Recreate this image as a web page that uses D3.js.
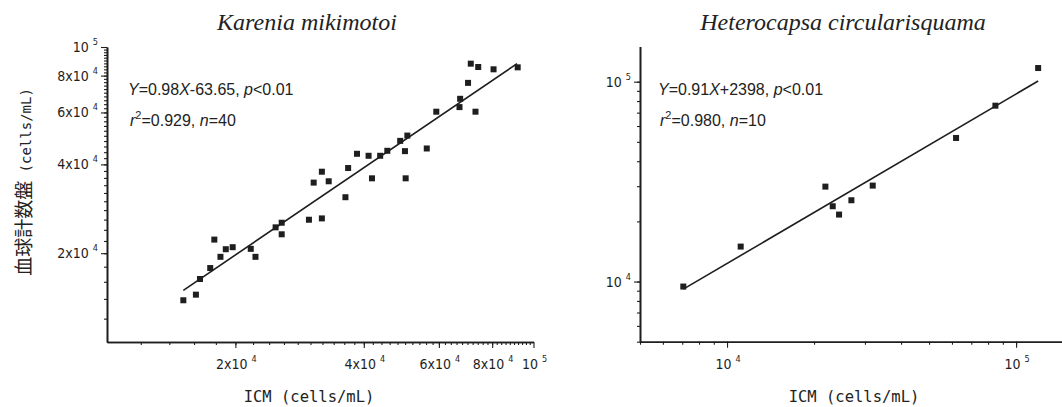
<!DOCTYPE html>
<html>
<head>
<meta charset="utf-8">
<script src="https://cdn.jsdelivr.net/npm/d3@7"></script>
<style>
  body { margin: 0; background: #fff; }
</style>
</head>
<body>
<svg id="chart"></svg>
<script>
// --- Data ---
// Karenia mikimotoi: ICM vs hemocytometer counts (cells/mL)
const kmX = [15100, 16160, 16520, 17460, 17850, 18450, 18990, 19710, 21730, 22290,
             24850, 25680, 25680, 29750, 30520, 31900, 31900, 33100, 36230, 36760,
             38560, 41050, 41810, 43700, 45420, 48690, 49960, 50150, 50610, 56200,
             59170, 67060, 67300, 70230, 71270, 73110, 74200, 80600, 91820];
const kmY = [13850, 14470, 16350, 17810, 22240, 19440, 20630, 20960, 20690, 19440,
             24470, 25370, 23180, 25970, 34700, 37780, 26240, 35060, 30960, 38880,
             43450, 42780, 35880, 42780, 44480, 48060, 44360, 35880, 50090, 45290,
             60350, 62560, 66740, 75580, 87800, 60350, 85540, 84020, 85320];
const kmFitX = [15100, 91500];
const kmFitY = [14970, 87800];

// Heterocapsa circularisquama
const hcX = [7060, 11150, 21890, 23210, 24410, 26930, 31920, 61990, 84800, 119200];
const hcY = [9440, 14960, 29850, 23810, 21630, 25510, 30200, 52290, 75860, 117040];
const hcFitX = [7060, 119200];
const hcFitY = [9160, 100800];

// labelled ticks
const kmTicks = [2e4, 4e4, 6e4, 8e4, 1e5];
const hcTicks = [1e4, 1e5];

const W = 1062, H = 407;
const ink = "#1e1e1e";
const tickFont = "'DejaVu Sans Condensed', 'DejaVu Sans', sans-serif";
const monoFont = "'DejaVu Sans Mono', monospace";
const cjkFont = "'Noto Sans CJK JP', sans-serif";

const svg = d3.select("#chart").attr("width", W).attr("height", H);
svg.append("rect").attr("width", W).attr("height", H).attr("fill", "#fff");

// "2x10" + superscript exponent
function tickParts(v) {
  const e = Math.floor(Math.log10(v) + 1e-9);
  const m = Math.round(v / Math.pow(10, e));
  return [m === 1 ? "10" : m + "x10", String(e)];
}

function addRich(sel, parts) {
  parts.forEach((p, i) => {
    const t = sel.append("tspan").text(p.t);
    if (p.i) t.attr("font-style", "italic");
    if (p.sup) t.attr("font-size", 11).attr("dy", -7);
    if (i > 0 && parts[i - 1].sup) t.attr("dy", 7);
  });
}

function drawPanel(p) {
  const g = svg.append("g");
  const x = d3.scaleLog().domain(p.xDomain).range(p.xRange);
  const y = d3.scaleLog().domain(p.yDomain).range(p.yRange);
  const x0 = p.xRange[0], y0 = p.yRange[0];

  // minor ticks
  const xMinor = g.append("g").attr("transform", `translate(0,${y0})`)
    .call(d3.axisBottom(x).tickValues(p.xMinor).tickSize(3).tickSizeOuter(0).tickFormat(""));
  const yMinor = g.append("g").attr("transform", `translate(${x0},0)`)
    .call(d3.axisLeft(y).tickValues(p.yMinor).tickSize(3).tickSizeOuter(0).tickFormat(""));
  // major ticks
  const xMajor = g.append("g").attr("transform", `translate(0,${y0})`)
    .call(d3.axisBottom(x).tickValues(p.xTicks).tickSize(6).tickSizeOuter(0).tickFormat(""));
  const yMajor = g.append("g").attr("transform", `translate(${x0},0)`)
    .call(d3.axisLeft(y).tickValues(p.yTicks).tickSize(6).tickSizeOuter(0).tickFormat(""));

  [xMinor, yMinor, xMajor, yMajor].forEach(a => {
    a.selectAll("line").attr("stroke", ink).attr("stroke-width", 1.1);
    a.select(".domain").attr("stroke", ink).attr("stroke-width", 1.6);
  });

  // tick labels
  p.yTicks.forEach(v => {
    const [m, e] = tickParts(v);
    const t = g.append("text")
      .attr("x", x0 - 9).attr("y", y(v) + 5)
      .attr("text-anchor", "end")
      .attr("font-family", tickFont).attr("font-size", 14).attr("fill", ink);
    t.append("tspan").text(m);
    t.append("tspan").text(e).attr("font-size", 9).attr("dx", 4).attr("dy", -7);
  });
  p.xTicks.forEach(v => {
    const [m, e] = tickParts(v);
    const t = g.append("text")
      .attr("x", x(v) + 1).attr("y", y0 + 27)
      .attr("text-anchor", "middle")
      .attr("font-family", tickFont).attr("font-size", 14).attr("fill", ink);
    t.append("tspan").text(m);
    t.append("tspan").text(e).attr("font-size", 9).attr("dx", 4).attr("dy", -7);
  });

  // fitted line
  const fit = d3.zip(p.fitX, p.fitY);
  g.append("path")
    .attr("d", d3.line().x(d => x(d[0])).y(d => y(d[1]))(fit))
    .attr("fill", "none").attr("stroke", ink).attr("stroke-width", 1.6);

  // points
  const pts = d3.zip(p.xs, p.ys);
  const s = 6;
  g.selectAll("rect.pt").data(pts).enter().append("rect")
    .attr("class", "pt")
    .attr("x", d => x(d[0]) - s / 2).attr("y", d => y(d[1]) - s / 2)
    .attr("width", s).attr("height", s)
    .attr("fill", ink);

  // species title
  g.append("text")
    .attr("x", p.titleX).attr("y", 30)
    .attr("text-anchor", "middle")
    .attr("font-family", "'Liberation Serif', 'Times New Roman', serif")
    .attr("font-style", "italic").attr("font-size", 24).attr("fill", "#222")
    .text(p.title);

  // regression annotation
  const a1 = g.append("text").attr("x", p.noteX).attr("y", 95)
    .attr("font-family", "'Liberation Sans', Arial, sans-serif").attr("font-size", 16).attr("fill", "#222");
  addRich(a1, p.note1);
  const a2 = g.append("text").attr("x", p.noteX + 2).attr("y", 126)
    .attr("font-family", "'Liberation Sans', Arial, sans-serif").attr("font-size", 16).attr("fill", "#222");
  addRich(a2, p.note2);

  // x axis title
  g.append("text")
    .attr("x", p.xTitleX).attr("y", 402)
    .attr("text-anchor", "middle")
    .attr("font-family", monoFont).attr("font-size", 15.5).attr("fill", "#222")
    .text("ICM (cells/mL)");
}

drawPanel({
  xDomain: [1e4, 1e5], xRange: [107, 533.5],
  yDomain: [1e4, 1e5], yRange: [342, 47],
  xMinor: d3.range(1.2e4, 1e5, 2e3), yMinor: d3.range(1.2e4, 1e5, 2e3),
  xTicks: kmTicks, yTicks: kmTicks,
  xs: kmX, ys: kmY, fitX: kmFitX, fitY: kmFitY,
  title: "Karenia mikimotoi", titleX: 307,
  noteX: 128,
  note1: [{t: "Y", i: true}, {t: "=0.98"}, {t: "X", i: true}, {t: "-63.65, "}, {t: "p", i: true}, {t: "<0.01"}],
  note2: [{t: "r", i: true}, {t: "2", sup: true}, {t: "=0.929, "}, {t: "n", i: true}, {t: "=40"}],
  xTitleX: 309
});

const hcYScale = d3.scaleLog().domain([5e3, 1.5e5]);
drawPanel({
  xDomain: [5e3, 1.5e5], xRange: [640, 1067],
  yDomain: [5e3, 1.5e5], yRange: [341.7, 46.5],
  xMinor: hcYScale.ticks(), yMinor: hcYScale.ticks(),
  xTicks: hcTicks, yTicks: hcTicks,
  xs: hcX, ys: hcY, fitX: hcFitX, fitY: hcFitY,
  title: "Heterocapsa circularisquama", titleX: 843,
  noteX: 658,
  note1: [{t: "Y", i: true}, {t: "=0.91"}, {t: "X", i: true}, {t: "+2398, "}, {t: "p", i: true}, {t: "<0.01"}],
  note2: [{t: "r", i: true}, {t: "2", sup: true}, {t: "=0.980, "}, {t: "n", i: true}, {t: "=10"}],
  xTitleX: 854
});

// shared y axis title
const yTitle = svg.append("text")
  .attr("transform", "translate(31,182) rotate(-90)")
  .attr("text-anchor", "middle")
  .attr("fill", "#222");
yTitle.append("tspan").attr("font-family", cjkFont).attr("font-size", 19).text("血球計数盤");
yTitle.append("tspan").attr("font-family", monoFont).attr("font-size", 14).text(" (cells/mL)");
</script>
</body>
</html>
